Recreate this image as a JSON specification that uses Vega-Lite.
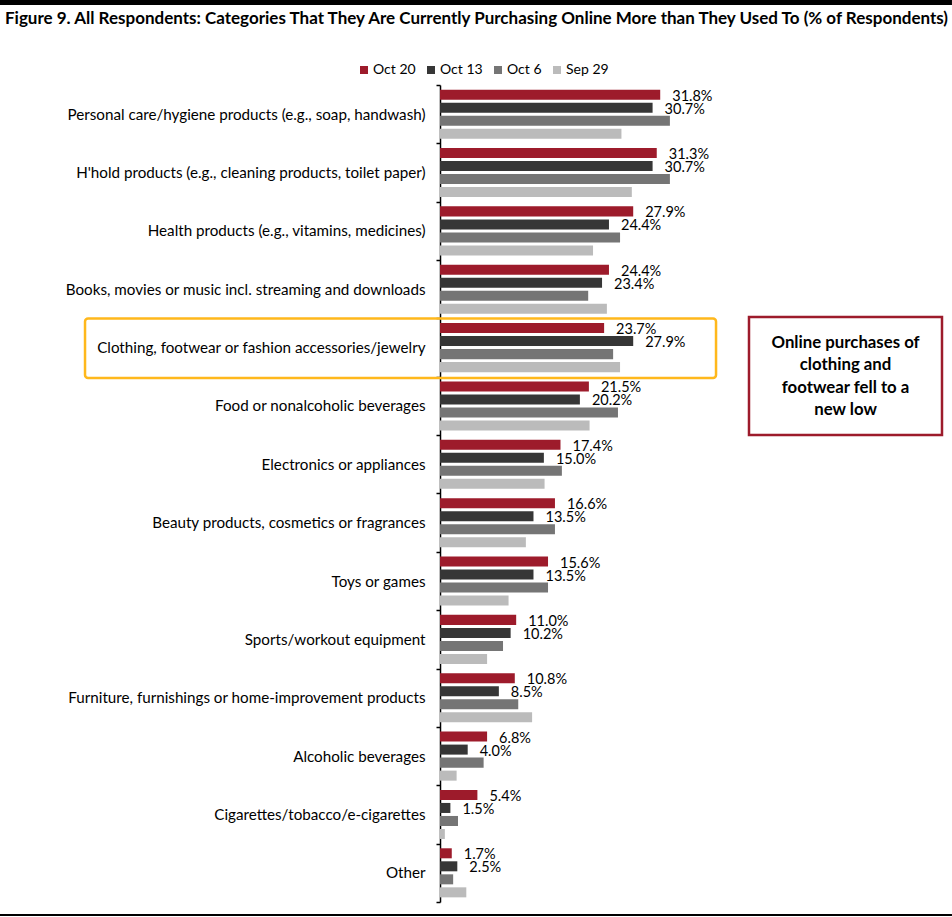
{
  "$schema": "https://vega.github.io/schema/vega-lite/v6.json",
  "autosize": "none",
  "width": 277,
  "height": 817,
  "padding": {"left": 440, "top": 85, "right": 235, "bottom": 15},
  "background": "white",
  "config": {"view": {"stroke": null}, "font": "Lato"},
  "datasets": {
    "survey": [
      {"category": "Personal care/hygiene products (e.g., soap, handwash)", "series": "Oct 20", "value": 0.318},
      {"category": "Personal care/hygiene products (e.g., soap, handwash)", "series": "Oct 13", "value": 0.307},
      {"category": "Personal care/hygiene products (e.g., soap, handwash)", "series": "Oct 6", "value": 0.332},
      {"category": "Personal care/hygiene products (e.g., soap, handwash)", "series": "Sep 29", "value": 0.262},
      {"category": "H'hold products (e.g., cleaning products, toilet paper)", "series": "Oct 20", "value": 0.313},
      {"category": "H'hold products (e.g., cleaning products, toilet paper)", "series": "Oct 13", "value": 0.307},
      {"category": "H'hold products (e.g., cleaning products, toilet paper)", "series": "Oct 6", "value": 0.332},
      {"category": "H'hold products (e.g., cleaning products, toilet paper)", "series": "Sep 29", "value": 0.277},
      {"category": "Health products (e.g., vitamins, medicines)", "series": "Oct 20", "value": 0.279},
      {"category": "Health products (e.g., vitamins, medicines)", "series": "Oct 13", "value": 0.244},
      {"category": "Health products (e.g., vitamins, medicines)", "series": "Oct 6", "value": 0.260},
      {"category": "Health products (e.g., vitamins, medicines)", "series": "Sep 29", "value": 0.221},
      {"category": "Books, movies or music incl. streaming and downloads", "series": "Oct 20", "value": 0.244},
      {"category": "Books, movies or music incl. streaming and downloads", "series": "Oct 13", "value": 0.234},
      {"category": "Books, movies or music incl. streaming and downloads", "series": "Oct 6", "value": 0.214},
      {"category": "Books, movies or music incl. streaming and downloads", "series": "Sep 29", "value": 0.241},
      {"category": "Clothing, footwear or fashion accessories/jewelry", "series": "Oct 20", "value": 0.237},
      {"category": "Clothing, footwear or fashion accessories/jewelry", "series": "Oct 13", "value": 0.279},
      {"category": "Clothing, footwear or fashion accessories/jewelry", "series": "Oct 6", "value": 0.250},
      {"category": "Clothing, footwear or fashion accessories/jewelry", "series": "Sep 29", "value": 0.260},
      {"category": "Food or nonalcoholic beverages", "series": "Oct 20", "value": 0.215},
      {"category": "Food or nonalcoholic beverages", "series": "Oct 13", "value": 0.202},
      {"category": "Food or nonalcoholic beverages", "series": "Oct 6", "value": 0.257},
      {"category": "Food or nonalcoholic beverages", "series": "Sep 29", "value": 0.216},
      {"category": "Electronics or appliances", "series": "Oct 20", "value": 0.174},
      {"category": "Electronics or appliances", "series": "Oct 13", "value": 0.150},
      {"category": "Electronics or appliances", "series": "Oct 6", "value": 0.176},
      {"category": "Electronics or appliances", "series": "Sep 29", "value": 0.151},
      {"category": "Beauty products, cosmetics or fragrances", "series": "Oct 20", "value": 0.166},
      {"category": "Beauty products, cosmetics or fragrances", "series": "Oct 13", "value": 0.135},
      {"category": "Beauty products, cosmetics or fragrances", "series": "Oct 6", "value": 0.166},
      {"category": "Beauty products, cosmetics or fragrances", "series": "Sep 29", "value": 0.124},
      {"category": "Toys or games", "series": "Oct 20", "value": 0.156},
      {"category": "Toys or games", "series": "Oct 13", "value": 0.135},
      {"category": "Toys or games", "series": "Oct 6", "value": 0.156},
      {"category": "Toys or games", "series": "Sep 29", "value": 0.099},
      {"category": "Sports/workout equipment", "series": "Oct 20", "value": 0.110},
      {"category": "Sports/workout equipment", "series": "Oct 13", "value": 0.102},
      {"category": "Sports/workout equipment", "series": "Oct 6", "value": 0.091},
      {"category": "Sports/workout equipment", "series": "Sep 29", "value": 0.068},
      {"category": "Furniture, furnishings or home-improvement products", "series": "Oct 20", "value": 0.108},
      {"category": "Furniture, furnishings or home-improvement products", "series": "Oct 13", "value": 0.085},
      {"category": "Furniture, furnishings or home-improvement products", "series": "Oct 6", "value": 0.113},
      {"category": "Furniture, furnishings or home-improvement products", "series": "Sep 29", "value": 0.133},
      {"category": "Alcoholic beverages", "series": "Oct 20", "value": 0.068},
      {"category": "Alcoholic beverages", "series": "Oct 13", "value": 0.040},
      {"category": "Alcoholic beverages", "series": "Oct 6", "value": 0.063},
      {"category": "Alcoholic beverages", "series": "Sep 29", "value": 0.024},
      {"category": "Cigarettes/tobacco/e-cigarettes", "series": "Oct 20", "value": 0.054},
      {"category": "Cigarettes/tobacco/e-cigarettes", "series": "Oct 13", "value": 0.015},
      {"category": "Cigarettes/tobacco/e-cigarettes", "series": "Oct 6", "value": 0.026},
      {"category": "Cigarettes/tobacco/e-cigarettes", "series": "Sep 29", "value": 0.007},
      {"category": "Other", "series": "Oct 20", "value": 0.017},
      {"category": "Other", "series": "Oct 13", "value": 0.025},
      {"category": "Other", "series": "Oct 6", "value": 0.019},
      {"category": "Other", "series": "Sep 29", "value": 0.038}
    ]
  },
  "resolve": {"scale": {"y": "independent"}},
  "layer": [
    {
      "data": {"name": "survey"},
      "encoding": {
        "y": {
          "field": "category",
          "type": "nominal",
          "sort": null,
          "scale": {"paddingInner": 0, "paddingOuter": 0},
          "axis": {
            "title": null,
            "tickBand": "extent",
            "domainColor": "#000000",
            "domainWidth": 1.5,
            "tickColor": "#000000",
            "tickWidth": 1.5,
            "tickSize": 4,
            "labelPadding": 11,
            "labelFontSize": 15.2,
            "labelFont": "Lato",
            "labelColor": "#000000",
            "labelLimit": 420
          }
        },
        "yOffset": {
          "field": "series",
          "type": "nominal",
          "sort": ["Oct 20", "Oct 13", "Oct 6", "Sep 29"],
          "scale": {"paddingInner": 0.23, "paddingOuter": 0.357}
        },
        "x": {
          "field": "value",
          "type": "quantitative",
          "scale": {"domain": [0, 0.4], "nice": false},
          "axis": null
        }
      },
      "layer": [
        {
          "mark": {"type": "bar"},
          "encoding": {
            "color": {
              "field": "series",
              "type": "nominal",
              "sort": ["Oct 20", "Oct 13", "Oct 6", "Sep 29"],
              "scale": {
                "domain": ["Oct 20", "Oct 13", "Oct 6", "Sep 29"],
                "range": ["#9D1B2B", "#363636", "#757575", "#BBBBBB"]
              },
              "legend": {
                "title": null,
                "orient": "none",
                "direction": "horizontal",
                "legendX": -83,
                "legendY": -22,
                "symbolType": "square",
                "symbolSize": 64,
                "symbolStrokeWidth": 0,
                "labelFontSize": 14,
                "labelFont": "Lato",
                "labelColor": "#000000",
                "labelOffset": 2,
                "columnPadding": 8
              }
            }
          }
        },
        {
          "transform": [{"filter": {"field": "series", "oneOf": ["Oct 20", "Oct 13"]}}],
          "mark": {"type": "text", "align": "left", "baseline": "middle", "dx": 12, "dy": 2, "fontSize": 14.5, "font": "Lato", "color": "#000000"},
          "encoding": {
            "text": {"field": "value", "type": "quantitative", "format": ".1%"}
          }
        }
      ]
    },
    {
      "data": {"values": [{}]},
      "layer": [
        {
          "mark": {"type": "rect", "fill": null, "stroke": "#FFB81C", "strokeWidth": 2.5, "cornerRadius": 3},
          "encoding": {
            "x": {"datum": -0.5126, "type": "quantitative", "scale": {"domain": [0, 0.4], "nice": false}, "axis": null},
            "x2": {"datum": 0.3986},
            "y": {"datum": 4.0, "type": "quantitative", "scale": {"domain": [0, 14], "reverse": true, "nice": false, "zero": false}, "axis": null},
            "y2": {"datum": 5.02}
          }
        },
        {
          "mark": {"type": "rect", "fill": "#FFFFFF", "stroke": "#9D1B2B", "strokeWidth": 2.5},
          "encoding": {
            "x": {"datum": 0.4462, "type": "quantitative", "scale": {"domain": [0, 0.4], "nice": false}, "axis": null},
            "x2": {"datum": 0.7249},
            "y": {"datum": 3.975, "type": "quantitative", "scale": {"domain": [0, 14], "reverse": true, "nice": false, "zero": false}, "axis": null},
            "y2": {"datum": 5.998}
          }
        },
        {
          "mark": {
            "type": "text",
            "text": ["Online purchases of", "clothing and", "footwear fell to a", "new low"],
            "align": "center",
            "baseline": "middle",
            "lineHeight": 22.3,
            "fontSize": 16.8,
            "fontWeight": "bold",
            "font": "Lato",
            "color": "#000000"
          },
          "encoding": {
            "x": {"datum": 0.5856, "type": "quantitative", "scale": {"domain": [0, 0.4], "nice": false}, "axis": null},
            "y": {"datum": 4.421, "type": "quantitative", "scale": {"domain": [0, 14], "reverse": true, "nice": false, "zero": false}, "axis": null}
          }
        },
        {
          "mark": {
            "type": "text",
            "text": "Figure 9. All Respondents: Categories That They Are Currently Purchasing Online More than They Used To (% of Respondents)",
            "align": "left",
            "baseline": "middle",
            "fontSize": 17,
            "fontWeight": "bold",
            "font": "Lato",
            "color": "#000000"
          },
          "encoding": {
            "x": {"datum": -0.6282, "type": "quantitative", "scale": {"domain": [0, 0.4], "nice": false}, "axis": null},
            "y": {"datum": -1.131, "type": "quantitative", "scale": {"domain": [0, 14], "reverse": true, "nice": false, "zero": false}, "axis": null}
          }
        },
        {
          "mark": {"type": "rule", "color": "#000000", "strokeWidth": 5},
          "encoding": {
            "x": {"datum": -0.6354, "type": "quantitative", "scale": {"domain": [0, 0.4], "nice": false}, "axis": null},
            "x2": {"datum": 0.7393},
            "y": {"datum": -1.414, "type": "quantitative", "scale": {"domain": [0, 14], "reverse": true, "nice": false, "zero": false}, "axis": null}
          }
        },
        {
          "mark": {"type": "rule", "color": "#000000", "strokeWidth": 2},
          "encoding": {
            "x": {"datum": -0.6354, "type": "quantitative", "scale": {"domain": [0, 0.4], "nice": false}, "axis": null},
            "x2": {"datum": 0.7393},
            "y": {"datum": 14.223, "type": "quantitative", "scale": {"domain": [0, 14], "reverse": true, "nice": false, "zero": false}, "axis": null}
          }
        }
      ]
    }
  ]
}
